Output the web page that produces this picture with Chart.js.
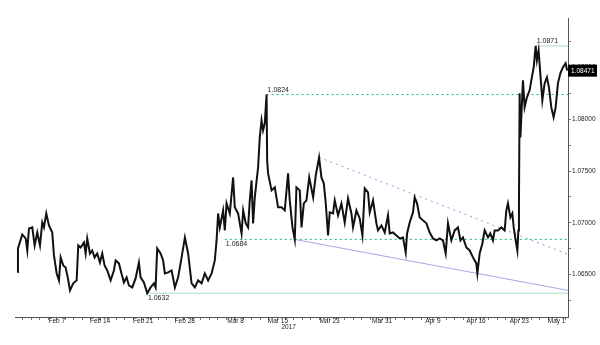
<!DOCTYPE html>
<html>
<head>
<meta charset="utf-8">
<script src="https://cdn.jsdelivr.net/npm/chart.js@4.4.1/dist/chart.umd.min.js"></script>
<style>
  html, body { margin: 0; padding: 0; background: #fff; }
  #wrap { width: 600px; height: 345px; }
</style>
</head>
<body>
<div id="wrap"><canvas id="fxChart" width="600" height="345"></canvas></div>
<script>
// x values are trading days counted from Feb 1 2017
const tickDays = [4, 9.1, 14.2, 19.1, 25.1, 30.1, 36.2, 42.4, 48.4, 53.5, 58.6, 63];
const tickLabels = ['Feb 7', 'Feb 14', 'Feb 21', 'Feb 28', 'Mar 8', 'Mar 15', 'Mar 23', 'Mar 31', 'Apr 9', 'Apr 16', 'Apr 23', 'May 1'];

const priceDays = [
    -0.67, -0.59, -0.08, 0.32, 0.51, 0.71, 1.10, 1.38, 1.69, 2.01, 2.28, 2.48, 2.75, 3.07, 3.46, 3.66, 3.98, 4.25,
    4.45, 4.76, 5.04, 5.31, 5.55, 5.94, 6.34, 6.53, 6.81, 7.20, 7.40, 7.59, 7.91, 8.18, 8.46, 8.77, 9.09, 9.36,
    9.64, 9.95, 10.35, 10.74, 10.94, 11.33, 11.60, 11.92, 12.24, 12.51, 12.90, 13.30, 13.69, 13.89, 14.28, 14.67,
    15.07, 15.46, 15.66, 15.85, 16.25, 16.55, 16.75, 17.14, 17.55, 17.94, 18.32, 18.73, 19.12, 19.50, 19.91, 20.30,
    20.68, 21.09, 21.47, 21.86, 22.27, 22.65, 22.86, 23.04, 23.24, 23.63, 23.83, 24.04, 24.42, 24.81, 25.01, 25.40,
    25.81, 26.00, 26.31, 26.58, 26.78, 26.99, 27.17, 27.37, 27.76, 27.96, 28.17, 28.35, 28.55, 28.76, 28.83, 28.94,
    29.35, 29.73, 30.12, 30.53, 30.91, 31.30, 31.50, 31.82, 32.09, 32.29, 32.68, 32.89, 33.16, 33.47, 33.80, 34.26,
    34.57, 34.96, 35.24, 35.52, 35.75, 36.02, 36.22, 36.61, 36.81, 37.20, 37.60, 37.99, 38.38, 38.78, 38.97, 39.37,
    39.76, 40.08, 40.35, 40.74, 40.94, 41.33, 41.73, 41.92, 42.32, 42.71, 43.10, 43.30, 43.69, 44.09, 44.48, 44.87,
    45.19, 45.35, 45.66, 46.05, 46.25, 46.53, 46.84, 47.23, 47.63, 48.02, 48.41, 48.81, 49.20, 49.59, 49.91, 50.18,
    50.58, 50.97, 51.36, 51.65, 51.95, 52.35, 52.74, 53.13, 53.53, 53.65, 53.92, 54.24, 54.51, 54.90, 55.18, 55.49,
    55.69, 56.08, 56.48, 56.87, 57.07, 57.26, 57.55, 57.78, 57.94, 58.17, 58.37, 58.49, 58.56, 58.64, 58.73, 58.84,
    59.03, 59.23, 59.50, 59.82, 60.02, 60.30, 60.53, 60.68, 60.88, 61.08, 61.32, 61.59, 61.86, 62.10, 62.38, 62.65,
    62.89, 63.16, 63.45, 63.75, 64.07, 64.25
];
const priceValues = [
    1.06524, 1.06753, 1.06888, 1.06849, 1.06733, 1.06946, 1.06956, 1.06782, 1.06907, 1.06782, 1.07004, 1.06956, 1.07091, 1.06975, 1.06907, 1.06685, 1.06511, 1.06444,
    1.06666, 1.06588, 1.06569, 1.06463, 1.06347, 1.06415, 1.06444, 1.06782, 1.06762, 1.06810, 1.06704, 1.06849, 1.06704, 1.06733, 1.06666, 1.06704, 1.06617, 1.06704,
    1.06588, 1.06540, 1.06444, 1.06540, 1.06637, 1.06608, 1.06521, 1.06424, 1.06473, 1.06395, 1.06376, 1.06463, 1.06617, 1.06473, 1.06424, 1.06320,
    1.06376, 1.06415, 1.06376, 1.06753, 1.06704, 1.06637, 1.06511, 1.06521, 1.06540, 1.06376, 1.06473, 1.06666, 1.06859, 1.06704, 1.06415, 1.06376,
    1.06444, 1.06415, 1.06511, 1.06444, 1.06511, 1.06637, 1.06830, 1.07091, 1.06956, 1.07120, 1.06927, 1.07188, 1.07091, 1.07439, 1.07150, 1.07091,
    1.06898, 1.07120, 1.06995, 1.06956, 1.07217, 1.07410, 1.06995, 1.07246, 1.07536, 1.07826, 1.07991, 1.07894, 1.07962, 1.08240, 1.07604, 1.07478,
    1.07314, 1.07343, 1.07150, 1.07150, 1.07120, 1.07478, 1.07217, 1.06956, 1.06840, 1.07343, 1.07314, 1.06956, 1.07188, 1.07217, 1.07439, 1.07246,
    1.07459, 1.07633, 1.07439, 1.07381, 1.07188, 1.06878, 1.07101, 1.07091, 1.07217, 1.07072, 1.07188, 1.07004, 1.07236, 1.07091, 1.06956, 1.07120,
    1.07043, 1.06878, 1.07333, 1.07294, 1.07101, 1.07217, 1.06995, 1.06927, 1.06975, 1.06907, 1.07072, 1.06898, 1.06907, 1.06878, 1.06849, 1.06859,
    1.06714, 1.06898, 1.07004, 1.07101, 1.07246, 1.07188, 1.07053, 1.07024, 1.06995, 1.06907, 1.06849, 1.06830, 1.06849, 1.06830, 1.06704, 1.06995,
    1.06830, 1.06927, 1.06956, 1.06830, 1.06859, 1.06762, 1.06733, 1.06666, 1.06608, 1.06511, 1.06704, 1.06801, 1.06927, 1.06859, 1.06898, 1.06830,
    1.06927, 1.06927, 1.06956, 1.06927, 1.07120, 1.07188, 1.07053, 1.07091, 1.06956, 1.06830, 1.06733, 1.06927, 1.07188, 1.08252, 1.07826, 1.08020,
    1.08377, 1.08116, 1.08213, 1.08281, 1.08377, 1.08503, 1.08710, 1.08571, 1.08667, 1.08445, 1.08184, 1.08348, 1.08406, 1.08310, 1.08116, 1.08020,
    1.08116, 1.08348, 1.08445, 1.08503, 1.08542, 1.08471
];

// support / resistance levels and where they start
const levelValues = [1.0871, 1.0824, 1.0684, 1.0632];
const levelStartDays = [60.53, 28.76, 23.83, 14.63];
const levelLabels = ['1.0871', '1.0824', '1.0684', '1.0632'];

const upperTrendDays = [34.96, 64.35];
const upperTrendValues = [1.07633, 1.06695];
const lowerTrendDays = [32.09, 64.35];
const lowerTrendValues = [1.0684, 1.06347];

const lastPrice = 1.08471;

const X_MIN = -0.94;
const X_MAX = 64.35;

function toPoints(xs, ys) {
    return xs.map((x, i) => ({ x: x, y: ys[i] }));
}

function levelDataset(i, color, dash) {
    return {
        data: toPoints([levelStartDays[i], X_MAX], [levelValues[i], levelValues[i]]),
        borderColor: color,
        borderWidth: 1,
        borderDash: dash,
        pointRadius: 0,
        fill: false,
        order: 1
    };
}

const textPlugin = {
    id: 'textPlugin',
    afterDraw(chart) {
        const ctx = chart.ctx;
        const xs = chart.scales.x;
        const ys = chart.scales.y;
        ctx.save();
        ctx.font = '7px "Liberation Sans", Arial, sans-serif';
        ctx.fillStyle = '#222';
        ctx.textAlign = 'left';

        // labels above the two upper levels, below the two lower ones
        for (let i = 0; i < levelValues.length; i++) {
            const px = xs.getPixelForValue(levelStartDays[i]) + 1;
            const py = ys.getPixelForValue(levelValues[i]);
            if (i < 2) {
                ctx.textBaseline = 'bottom';
                ctx.fillText(levelLabels[i], px, py - 1);
            } else {
                ctx.textBaseline = 'top';
                ctx.fillText(levelLabels[i], px, py + 1);
            }
        }

        // year under Mar 15
        ctx.font = '6.5px "Liberation Sans", Arial, sans-serif';
        ctx.textAlign = 'right';
        ctx.textBaseline = 'middle';
        ctx.fillText('2017', xs.getPixelForValue(tickDays[5]) + 18, 327);

        // last price tag on the right axis
        const ly = ys.getPixelForValue(lastPrice);
        const lx = chart.chartArea.right;
        ctx.fillStyle = '#000';
        ctx.fillRect(lx, ly - 6, 29, 12);
        ctx.fillStyle = '#fff';
        ctx.textAlign = 'left';
        ctx.fillText(lastPrice.toFixed(5), lx + 3, ly + 0.5);
        ctx.restore();
    }
};

const ctx = document.getElementById('fxChart').getContext('2d');

window.fxChart = new Chart(ctx, {
    type: 'line',
    data: {
        datasets: [
            levelDataset(0, '#a8dcc4', []),
            levelDataset(1, '#19c06a', [2, 3]),
            levelDataset(2, '#19c06a', [2, 3]),
            levelDataset(3, '#a8dcc4', []),
            {
                data: toPoints(upperTrendDays, upperTrendValues),
                borderColor: '#8d9ce0',
                borderWidth: 1,
                borderDash: [2, 4],
                pointRadius: 0,
                fill: false,
                order: 1
            },
            {
                data: toPoints(lowerTrendDays, lowerTrendValues),
                borderColor: '#a3a9e2',
                borderWidth: 1,
                pointRadius: 0,
                fill: false,
                order: 1
            },
            {
                data: toPoints(priceDays, priceValues),
                borderColor: '#111',
                borderWidth: 2,
                pointRadius: 0,
                tension: 0,
                fill: false,
                order: -1
            }
        ]
    },
    options: {
        responsive: false,
        animation: false,
        events: [],
        layout: {
            padding: { left: 15, top: 18, right: 0, bottom: 0 }
        },
        plugins: {
            legend: { display: false },
            tooltip: { enabled: false }
        },
        scales: {
            x: {
                type: 'linear',
                min: X_MIN,
                max: X_MAX,
                afterBuildTicks: function (scale) {
                    const ticks = [];
                    for (let d = 0; d <= 64; d++) {
                        if (tickDays.indexOf(d) < 0) ticks.push({ value: d });
                    }
                    tickDays.forEach(d => ticks.push({ value: d }));
                    ticks.sort((a, b) => a.value - b.value);
                    scale.ticks = ticks;
                },
                afterFit: function (scale) { scale.height = 28; },
                grid: {
                    drawOnChartArea: false,
                    tickLength: 3,
                    color: '#777'
                },
                border: { color: '#555', width: 1 },
                ticks: {
                    autoSkip: false,
                    maxRotation: 0,
                    padding: -3,
                    color: '#222',
                    font: { family: '"Liberation Sans", Arial, sans-serif', size: 6.5 },
                    callback: function (value) {
                        const i = tickDays.indexOf(value);
                        return i >= 0 ? tickLabels[i] : '';
                    }
                }
            },
            y: {
                position: 'right',
                min: 1.0609,
                max: 1.0898,
                afterBuildTicks: function (scale) {
                    const ticks = [];
                    for (let k = 0; k <= 10; k++) ticks.push({ value: 1.0625 + k * 0.0025 });
                    scale.ticks = ticks;
                },
                afterFit: function (scale) { scale.width = 32; },
                grid: {
                    drawOnChartArea: false,
                    tickLength: 3,
                    color: '#777'
                },
                border: { color: '#555', width: 1 },
                ticks: {
                    padding: 1,
                    color: '#222',
                    font: { family: '"Liberation Sans", Arial, sans-serif', size: 6.5 },
                    callback: function (value) {
                        const k = Math.round(value * 10000);
                        return k % 50 === 0 ? value.toFixed(5) : '';
                    }
                }
            }
        }
    },
    plugins: [textPlugin]
});
</script>
</body>
</html>
